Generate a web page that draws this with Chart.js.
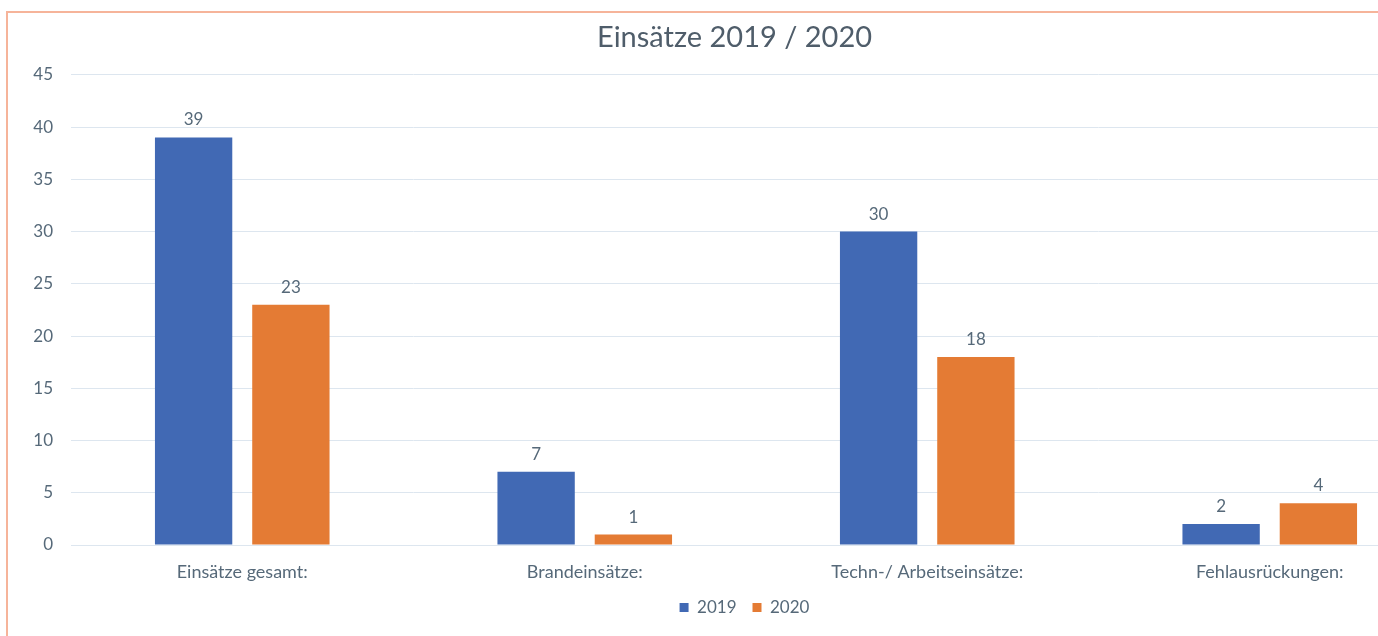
<!DOCTYPE html>
<html>
<head>
<meta charset="utf-8">
<script src="https://cdn.jsdelivr.net/npm/chart.js@4.4.1/dist/chart.umd.min.js"></script>
<style>
  html, body { margin: 0; padding: 0; background: #ffffff; overflow: hidden; width: 1378px; height: 636px; }
  #frame { position: absolute; left: 6px; top: 11px; width: 1500px; height: 700px; border-left: 2px solid #f6b49a; border-top: 2px solid #f6b49a; }
  #wrap { position: absolute; left: 0; top: 0; width: 1480px; height: 636px; }
</style>
</head>
<body>
<div id="frame"></div>
<div id="wrap"><canvas id="c"></canvas></div>
<script>
const categories = ["Einsätze gesamt:", "Brandeinsätze:", "Techn-/ Arbeitseinsätze:", "Fehlausrückungen:"];
const series2019 = [39, 7, 30, 2];
const series2020 = [23, 1, 18, 4];
const seriesNames = ["2019", "2020"];
const yTicks = [0, 5, 10, 15, 20, 25, 30, 35, 40, 45];
const titleText = "Einsätze 2019 / 2020";

const textColor = "#566979";
const fontFamily = "Lato, 'Open Sans', 'Liberation Sans', sans-serif";

const valueLabels = {
  id: "valueLabels",
  afterDatasetsDraw(chart) {
    const ctx = chart.ctx;
    ctx.save();
    ctx.font = "17px " + fontFamily;
    ctx.fillStyle = textColor;
    ctx.textAlign = "center";
    ctx.textBaseline = "bottom";
    chart.data.datasets.forEach((ds, i) => {
      chart.getDatasetMeta(i).data.forEach((bar, j) => {
        ctx.fillText(String(ds.data[j]), bar.x, bar.y - 9);
      });
    });
    ctx.restore();
  }
};

// shift centred title/legend boxes to match the reference's centring
const shiftBoxes = {
  id: "shiftBoxes",
  afterLayout(chart) {
    if (chart.legend) { chart.legend.left += 24; chart.legend.right += 24; }
    if (chart.titleBlock) { chart.titleBlock.left += 14; chart.titleBlock.right += 14; }
  }
};

new Chart(document.getElementById("c"), {
  type: "bar",
  data: {
    labels: categories,
    datasets: [
      { label: seriesNames[0], data: series2019, backgroundColor: "#4169b4" },
      { label: seriesNames[1], data: series2020, backgroundColor: "#e47b34" }
    ]
  },
  options: {
    responsive: true,
    maintainAspectRatio: false,
    animation: false,
    devicePixelRatio: 1,
    layout: { padding: { left: 0, right: 39, top: 0, bottom: 10 } },
    datasets: { bar: { categoryPercentage: 0.568, barPercentage: 0.795 } },
    plugins: {
      title: {
        display: true, text: titleText, color: "#4f5d6a",
        font: { family: fontFamily, size: 29, weight: "normal" },
        padding: { top: 20, bottom: 20 }
      },
      legend: {
        position: "bottom",
        labels: {
          color: textColor, boxWidth: 9, boxHeight: 9, padding: 16,
          font: { family: fontFamily, size: 17 }
        }
      },
      tooltip: { enabled: false }
    },
    scales: {
      x: {
        afterFit(scale) { scale.height = 38; },
        grid: { display: false, drawTicks: false },
        border: { display: true, color: "#dde6ef" },
        ticks: { color: textColor, font: { family: fontFamily, size: 18 }, padding: 16 }
      },
      y: {
        min: 0, max: 45,
        afterBuildTicks(scale) { scale.ticks = yTicks.map(v => ({ value: v })); },
        afterFit(scale) { scale.width = 71; },
        grid: { color: "#dde6ef", drawTicks: false },
        border: { display: false },
        ticks: { color: textColor, font: { family: fontFamily, size: 17 }, padding: 18 }
      }
    }
  },
  plugins: [valueLabels, shiftBoxes]
});
</script>
</body>
</html>
